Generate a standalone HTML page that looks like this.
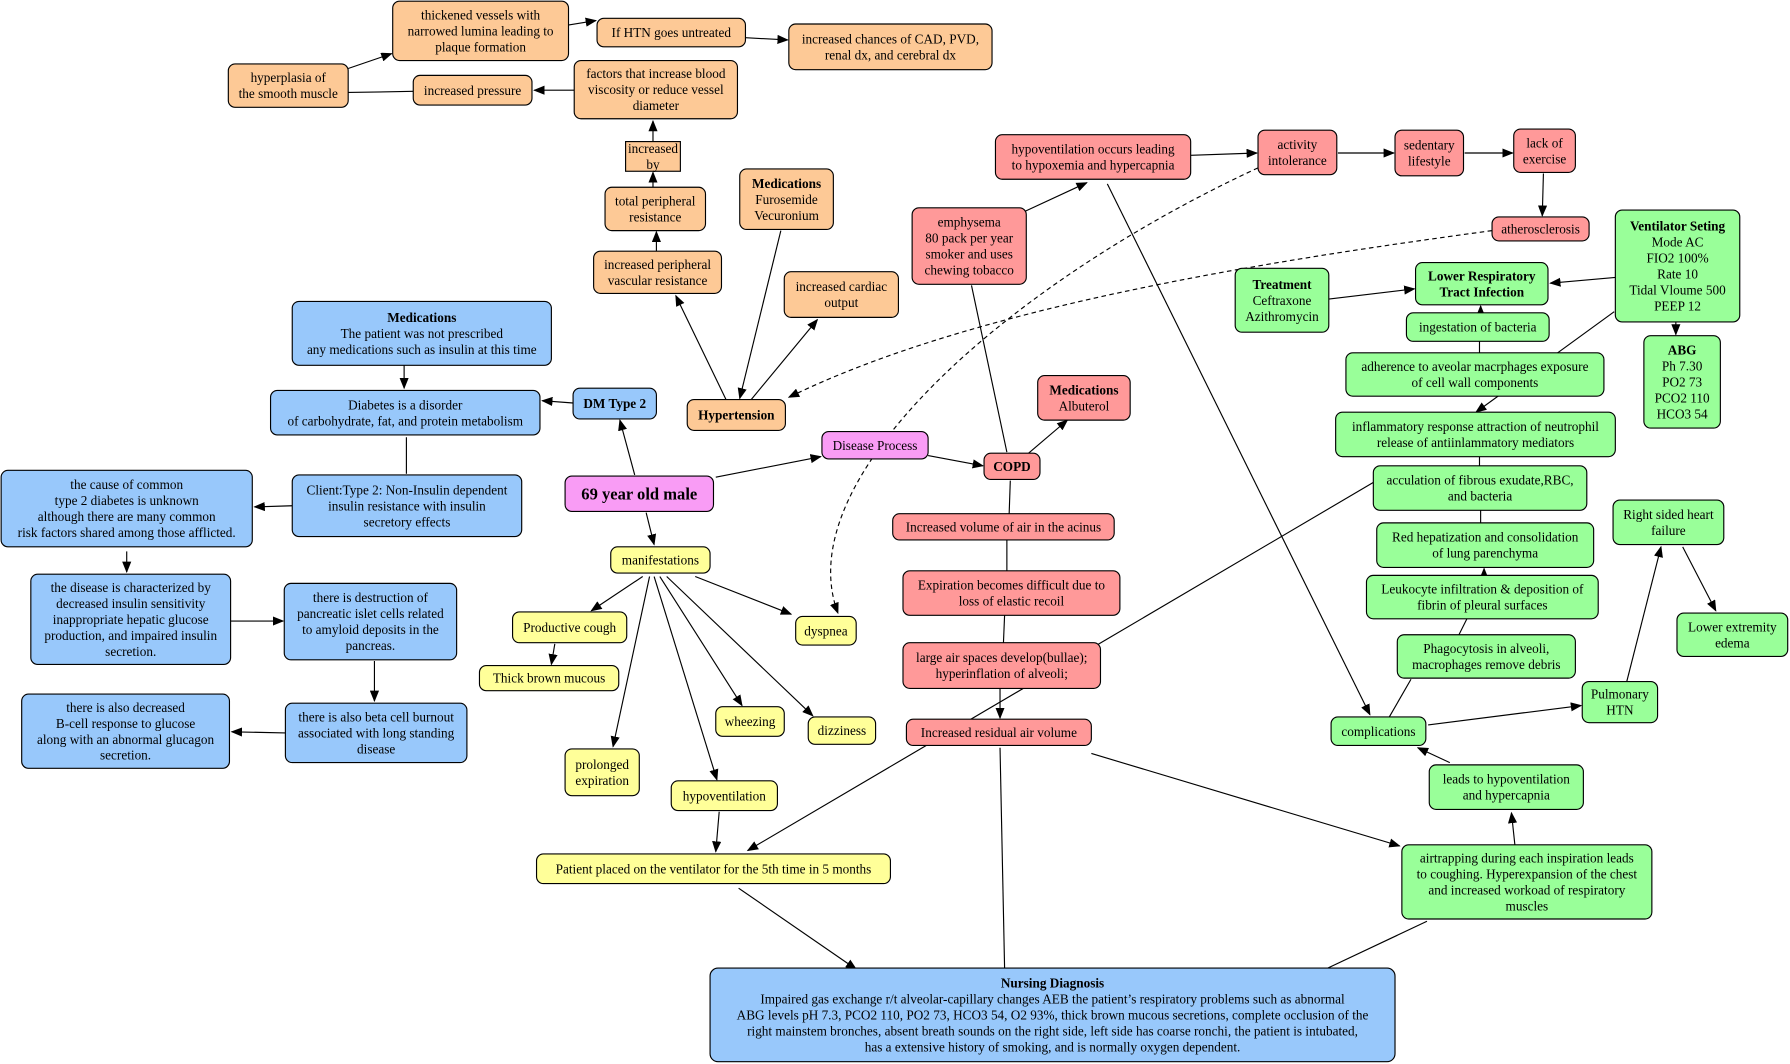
<!DOCTYPE html>
<html><head><meta charset="utf-8"><style>
html,body{margin:0;padding:0;background:#fff;}
svg{display:block;}
text{font-family:"Liberation Serif","DejaVu Serif",serif;font-size:11.6px;fill:#000;text-anchor:middle;}
.b{font-weight:bold;}
rect{stroke:#000;stroke-width:1;}
.l{stroke:#000;stroke-width:1;fill:none;}
.O{fill:#fdc996}.R{fill:#ff9999}.G{fill:#99ff99}.B{fill:#98c8fb}.Y{fill:#ffff99}.P{fill:#f99cf5}
</style></head><body>
<svg width="1790" height="1064" viewBox="0 0 1568 932" xmlns="http://www.w3.org/2000/svg">
<defs><marker id="a" markerWidth="10" markerHeight="8" refX="9" refY="4" orient="auto" markerUnits="userSpaceOnUse"><path d="M0,0 L10,4 L0,8 z" fill="#000"/></marker></defs>
<g class="l">
<line x1="305" y1="60" x2="343" y2="47" marker-end="url(#a)"/>
<line x1="497" y1="22" x2="522" y2="18" marker-end="url(#a)"/>
<line x1="653" y1="33" x2="690" y2="35" marker-end="url(#a)"/>
<line x1="503" y1="79" x2="468" y2="79" marker-end="url(#a)"/>
<line x1="362" y1="80" x2="305" y2="81"/>
<line x1="572" y1="124" x2="572" y2="106" marker-end="url(#a)"/>
<line x1="572" y1="164" x2="572" y2="151" marker-end="url(#a)"/>
<line x1="575" y1="220" x2="575" y2="203" marker-end="url(#a)"/>
<line x1="636" y1="350" x2="592" y2="259" marker-end="url(#a)"/>
<line x1="684" y1="202" x2="648" y2="349" marker-end="url(#a)"/>
<line x1="658" y1="350" x2="716" y2="280" marker-end="url(#a)"/>
<line x1="502" y1="353" x2="475" y2="351" marker-end="url(#a)"/>
<line x1="354" y1="320" x2="354" y2="340" marker-end="url(#a)"/>
<line x1="356" y1="383" x2="356" y2="415"/>
<line x1="256" y1="443" x2="223" y2="444" marker-end="url(#a)"/>
<line x1="111" y1="483" x2="111" y2="501" marker-end="url(#a)"/>
<line x1="202" y1="544" x2="248" y2="544" marker-end="url(#a)"/>
<line x1="328" y1="579" x2="328" y2="614" marker-end="url(#a)"/>
<line x1="250" y1="642" x2="203" y2="641" marker-end="url(#a)"/>
<line x1="556" y1="416" x2="543" y2="368" marker-end="url(#a)"/>
<line x1="627" y1="418" x2="719" y2="400" marker-end="url(#a)"/>
<line x1="566" y1="449" x2="573" y2="477" marker-end="url(#a)"/>
<line x1="813" y1="399" x2="861" y2="408" marker-end="url(#a)"/>
<line x1="563" y1="505" x2="518" y2="535" marker-end="url(#a)"/>
<line x1="486" y1="564" x2="483" y2="582" marker-end="url(#a)"/>
<line x1="569" y1="505" x2="537" y2="654" marker-end="url(#a)"/>
<line x1="573" y1="505" x2="628" y2="683" marker-end="url(#a)"/>
<line x1="578" y1="505" x2="650" y2="618" marker-end="url(#a)"/>
<line x1="584" y1="505" x2="712" y2="627" marker-end="url(#a)"/>
<line x1="609" y1="505" x2="693" y2="538" marker-end="url(#a)"/>
<line x1="630" y1="711" x2="627" y2="746" marker-end="url(#a)"/>
<line x1="1204" y1="422" x2="655" y2="745" marker-end="url(#a)"/>
<line x1="647" y1="778" x2="750" y2="849" marker-end="url(#a)"/>
<line x1="876" y1="655" x2="880" y2="848"/>
<line x1="956" y1="660" x2="1226" y2="741" marker-end="url(#a)"/>
<line x1="1250" y1="807" x2="1163" y2="848"/>
<line x1="1327" y1="740" x2="1324" y2="712" marker-end="url(#a)"/>
<line x1="1270" y1="668" x2="1242" y2="655" marker-end="url(#a)"/>
<line x1="1251" y1="635" x2="1385" y2="618" marker-end="url(#a)"/>
<line x1="1425" y1="597" x2="1455" y2="479" marker-end="url(#a)"/>
<line x1="1474" y1="479" x2="1503" y2="535" marker-end="url(#a)"/>
<line x1="970" y1="161" x2="1200" y2="626" marker-end="url(#a)"/>
<line x1="1236" y1="595" x2="1217" y2="628"/>
<line x1="898" y1="185" x2="952" y2="160" marker-end="url(#a)"/>
<line x1="851" y1="250" x2="882" y2="396"/>
<line x1="901" y1="397" x2="935" y2="368" marker-end="url(#a)"/>
<line x1="885" y1="421" x2="884" y2="450"/>
<line x1="882" y1="473" x2="882" y2="500"/>
<line x1="880" y1="539" x2="879" y2="563"/>
<line x1="876" y1="603" x2="876" y2="629" marker-end="url(#a)"/>
<line x1="1043" y1="136" x2="1101" y2="134" marker-end="url(#a)"/>
<line x1="1172" y1="134" x2="1221" y2="134" marker-end="url(#a)"/>
<line x1="1283" y1="134" x2="1325" y2="134" marker-end="url(#a)"/>
<line x1="1352" y1="152" x2="1351" y2="189" marker-end="url(#a)"/>
<line x1="1164" y1="262" x2="1239" y2="253" marker-end="url(#a)"/>
<line x1="1415" y1="243" x2="1358" y2="248" marker-end="url(#a)"/>
<line x1="1468" y1="282" x2="1468" y2="293" marker-end="url(#a)"/>
<line x1="1414" y1="273" x2="1293" y2="361" marker-end="url(#a)"/>
<line x1="1296" y1="309" x2="1296" y2="299"/>
<line x1="1297" y1="274" x2="1297" y2="268" marker-end="url(#a)"/>
<line x1="1296" y1="400" x2="1296" y2="408"/>
<line x1="1297" y1="447" x2="1297" y2="458"/>
<line x1="1300" y1="504" x2="1300" y2="498" marker-end="url(#a)"/>
<line x1="1285" y1="542" x2="1278" y2="556"/>
<path d="M1102,147 C880,250 690,420 734,537" stroke-dasharray="4,3" marker-end="url(#a)"/>
<path d="M1307,202 C1100,230 850,270 691,348" stroke-dasharray="4,3" marker-end="url(#a)"/>
</g>

<g>
<rect class="O" x="344" y="1" width="154" height="52" rx="6"/><text y="17"><tspan x="421">thickened vessels with</tspan><tspan x="421" dy="14">narrowed lumina leading to</tspan><tspan x="421" dy="14">plaque formation</tspan></text>
<rect class="O" x="523" y="16" width="130" height="25" rx="6"/><text x="588" y="32.5">If HTN goes untreated</text>
<rect class="O" x="691" y="21" width="178" height="40" rx="6"/><text y="38"><tspan x="780">increased chances of CAD, PVD,</tspan><tspan x="780" dy="14">renal dx, and cerebral dx</tspan></text>
<rect class="O" x="200" y="56" width="105" height="38" rx="6"/><text y="72"><tspan x="252.5">hyperplasia of</tspan><tspan x="252.5" dy="14">the smooth muscle</tspan></text>
<rect class="O" x="362" y="66" width="104" height="26" rx="6"/><text x="414" y="83">increased pressure</text>
<rect class="O" x="503" y="53" width="143" height="51" rx="6"/><text y="68.5"><tspan x="574.5">factors that increase blood</tspan><tspan x="574.5" dy="14">viscosity or reduce vessel</tspan><tspan x="574.5" dy="14">diameter</tspan></text>
<rect class="O" x="548" y="124" width="48" height="26"/><text y="134"><tspan x="572">increased</tspan><tspan x="572" dy="14">by</tspan></text>
<rect class="O" x="530" y="164" width="88" height="38" rx="6"/><text y="180"><tspan x="574">total peripheral</tspan><tspan x="574" dy="14">resistance</tspan></text>
<rect class="O" x="648" y="148" width="82" height="53" rx="6"/><text y="164.5"><tspan x="689" class="b">Medications</tspan><tspan x="689" dy="14">Furosemide</tspan><tspan x="689" dy="14">Vecuronium</tspan></text>
<rect class="O" x="520" y="220" width="112" height="37" rx="6"/><text y="235.5"><tspan x="576">increased peripheral</tspan><tspan x="576" dy="14">vascular resistance</tspan></text>
<rect class="O" x="687" y="238" width="100" height="40" rx="6"/><text y="255"><tspan x="737">increased cardiac</tspan><tspan x="737" dy="14">output</tspan></text>
<rect class="O" x="602" y="350" width="86" height="27" rx="6"/><text x="645" y="367.5" class="b">Hypertension</text>

<rect class="B" x="256" y="264" width="227" height="56" rx="6"/><text y="282"><tspan x="369.5" class="b">Medications</tspan><tspan x="369.5" dy="14">The patient was not prescribed</tspan><tspan x="369.5" dy="14">any medications such as insulin at this time</tspan></text>
<rect class="B" x="237" y="342" width="236" height="39" rx="6"/><text y="358.5"><tspan x="355">Diabetes is a disorder</tspan><tspan x="355" dy="14">of carbohydrate, fat, and protein metabolism</tspan></text>
<rect class="B" x="502" y="340" width="73" height="27" rx="6"/><text x="538.5" y="357.5" class="b">DM Type 2</text>
<rect class="B" x="256" y="416" width="201" height="54" rx="6"/><text y="433"><tspan x="356.5">Client:Type 2: Non-Insulin dependent</tspan><tspan x="356.5" dy="14">insulin resistance with insulin</tspan><tspan x="356.5" dy="14">secretory effects</tspan></text>
<rect class="B" x="1" y="412" width="220" height="67" rx="6"/><text y="428.5"><tspan x="111">the cause of common</tspan><tspan x="111" dy="14">type 2 diabetes is unknown</tspan><tspan x="111" dy="14">although there are many common</tspan><tspan x="111" dy="14">risk factors shared among those afflicted.</tspan></text>
<rect class="B" x="27" y="503" width="175" height="79" rx="6"/><text y="518.5"><tspan x="114.5">the disease is characterized by</tspan><tspan x="114.5" dy="14">decreased insulin sensitivity</tspan><tspan x="114.5" dy="14">inappropriate hepatic glucose</tspan><tspan x="114.5" dy="14">production, and impaired insulin</tspan><tspan x="114.5" dy="14">secretion.</tspan></text>
<rect class="B" x="249" y="511" width="151" height="67" rx="6"/><text y="527.5"><tspan x="324.5">there is destruction of</tspan><tspan x="324.5" dy="14">pancreatic islet cells related</tspan><tspan x="324.5" dy="14">to amyloid deposits in the</tspan><tspan x="324.5" dy="14">pancreas.</tspan></text>
<rect class="B" x="250" y="616" width="159" height="52" rx="6"/><text y="632"><tspan x="329.5">there is also beta cell burnout</tspan><tspan x="329.5" dy="14">associated with long standing</tspan><tspan x="329.5" dy="14">disease</tspan></text>
<rect class="B" x="19" y="608" width="182" height="65" rx="6"/><text y="623.5"><tspan x="110">there is also  decreased</tspan><tspan x="110" dy="14">B-cell response to glucose</tspan><tspan x="110" dy="14">along with an abnormal glucagon</tspan><tspan x="110" dy="14">secretion.</tspan></text>
<rect class="B" x="622" y="848" width="600" height="82" rx="7"/><text y="865"><tspan x="922" class="b">Nursing Diagnosis</tspan><tspan x="922" dy="14">Impaired gas exchange r/t alveolar-capillary changes AEB the patient’s respiratory problems such as abnormal</tspan><tspan x="922" dy="14">ABG levels pH 7.3, PCO2 110, PO2 73, HCO3 54, O2 93%, thick brown mucous secretions, complete occlusion of the</tspan><tspan x="922" dy="14">right mainstem bronches, absent breath sounds on the right side, left side has coarse ronchi, the patient is intubated,</tspan><tspan x="922" dy="14">has a extensive history of smoking, and is normally oxygen dependent.</tspan></text>

<rect class="P" x="495" y="417" width="130" height="31" rx="6"/><text x="560" y="437.5" class="b" style="font-size:14.5px">69 year old male</text>
<rect class="P" x="720" y="378" width="93" height="24" rx="6"/><text x="766.5" y="394">Disease Process</text>

<rect class="Y" x="535" y="479" width="87" height="23" rx="6"/><text x="578.5" y="494.5">manifestations</text>
<rect class="Y" x="449" y="536" width="100" height="27" rx="6"/><text x="499" y="553.5">Productive cough</text>
<rect class="Y" x="420" y="583" width="122" height="22" rx="6"/><text x="481" y="598">Thick brown mucous</text>
<rect class="Y" x="697" y="540" width="53" height="25" rx="6"/><text x="723.5" y="556.5">dyspnea</text>
<rect class="Y" x="627" y="619" width="60" height="26" rx="6"/><text x="657" y="636">wheezing</text>
<rect class="Y" x="708" y="628" width="59" height="24" rx="6"/><text x="737.5" y="644">dizziness</text>
<rect class="Y" x="495" y="656" width="65" height="41" rx="6"/><text y="673.5"><tspan x="527.5">prolonged</tspan><tspan x="527.5" dy="14">expiration</tspan></text>
<rect class="Y" x="588" y="684" width="93" height="26" rx="6"/><text x="634.5" y="701">hypoventilation</text>
<rect class="Y" x="470" y="748" width="310" height="26" rx="6"/><text x="625" y="765">Patient placed on the ventilator for the 5th time in 5 months</text>

<rect class="R" x="872" y="118" width="171" height="39" rx="6"/><text y="134.5"><tspan x="957.5">hypoventilation occurs leading</tspan><tspan x="957.5" dy="14">to hypoxemia and hypercapnia</tspan></text>
<rect class="R" x="1102" y="114" width="69" height="39" rx="6"/><text y="130.5"><tspan x="1136.5">activity</tspan><tspan x="1136.5" dy="14">intolerance</tspan></text>
<rect class="R" x="1222" y="114" width="60" height="40" rx="6"/><text y="131"><tspan x="1252">sedentary</tspan><tspan x="1252" dy="14">lifestyle</tspan></text>
<rect class="R" x="1326" y="113" width="54" height="38" rx="6"/><text y="129"><tspan x="1353">lack of</tspan><tspan x="1353" dy="14">exercise</tspan></text>
<rect class="R" x="1307" y="190" width="85" height="21" rx="6"/><text x="1349.5" y="204.5">atherosclerosis</text>
<rect class="R" x="799" y="182" width="100" height="67" rx="6"/><text y="198.5"><tspan x="849">emphysema</tspan><tspan x="849" dy="14">80 pack per year</tspan><tspan x="849" dy="14">smoker and uses</tspan><tspan x="849" dy="14">chewing tobacco</tspan></text>
<rect class="R" x="909" y="329" width="81" height="39" rx="6"/><text y="345.5"><tspan x="949.5" class="b">Medications</tspan><tspan x="949.5" dy="14">Albuterol</tspan></text>
<rect class="R" x="862" y="397" width="49" height="23" rx="6"/><text x="886.5" y="412.5" class="b">COPD</text>
<rect class="R" x="782" y="450" width="194" height="23" rx="6"/><text x="879" y="465.5">Increased volume of air in the acinus</text>
<rect class="R" x="791" y="500" width="190" height="39" rx="6"/><text y="516.5"><tspan x="886">Expiration becomes difficult due to</tspan><tspan x="886" dy="14">loss of elastic recoil</tspan></text>
<rect class="R" x="791" y="563" width="173" height="40" rx="6"/><text y="580"><tspan x="877.5">large air spaces develop(bullae);</tspan><tspan x="877.5" dy="14">hyperinflation of alveoli;</tspan></text>
<rect class="R" x="794" y="630" width="162" height="23" rx="6"/><text x="875" y="645.5">Increased residual air volume</text>

<rect class="G" x="1415" y="184" width="109" height="98" rx="6"/><text y="202"><tspan x="1469.5" class="b">Ventilator Seting</tspan><tspan x="1469.5" dy="14">Mode AC</tspan><tspan x="1469.5" dy="14">FIO2 100%</tspan><tspan x="1469.5" dy="14">Rate 10</tspan><tspan x="1469.5" dy="14">Tidal Vloume 500</tspan><tspan x="1469.5" dy="14">PEEP 12</tspan></text>
<rect class="G" x="1240" y="230" width="116" height="37" rx="6"/><text y="245.5" class="b"><tspan x="1298">Lower Respiratory</tspan><tspan x="1298" dy="14">Tract Infection</tspan></text>
<rect class="G" x="1082" y="235" width="82" height="56" rx="6"/><text y="253"><tspan x="1123" class="b">Treatment</tspan><tspan x="1123" dy="14">Ceftraxone</tspan><tspan x="1123" dy="14">Azithromycin</tspan></text>
<rect class="G" x="1232" y="274" width="125" height="25" rx="6"/><text x="1294.5" y="290.5">ingestation of bacteria</text>
<rect class="G" x="1440" y="294" width="67" height="81" rx="6"/><text y="310.5"><tspan x="1473.5" class="b">ABG</tspan><tspan x="1473.5" dy="14">Ph 7.30</tspan><tspan x="1473.5" dy="14">PO2 73</tspan><tspan x="1473.5" dy="14">PCO2 110</tspan><tspan x="1473.5" dy="14">HCO3 54</tspan></text>
<rect class="G" x="1179" y="309" width="226" height="38" rx="6"/><text y="325"><tspan x="1292">adherence to aveolar macrphages exposure</tspan><tspan x="1292" dy="14">of cell wall components</tspan></text>
<rect class="G" x="1170" y="361" width="245" height="39" rx="6"/><text y="377.5"><tspan x="1292.5">inflammatory response attraction of neutrophil</tspan><tspan x="1292.5" dy="14">release of antiinlammatory mediators</tspan></text>
<rect class="G" x="1203" y="408" width="187" height="39" rx="6"/><text y="424.5"><tspan x="1296.5">acculation of fibrous exudate,RBC,</tspan><tspan x="1296.5" dy="14">and bacteria</tspan></text>
<rect class="G" x="1413" y="438" width="97" height="39" rx="6"/><text y="454.5"><tspan x="1461.5">Right sided heart</tspan><tspan x="1461.5" dy="14">failure</tspan></text>
<rect class="G" x="1206" y="458" width="190" height="39" rx="6"/><text y="474.5"><tspan x="1301">Red hepatization and consolidation</tspan><tspan x="1301" dy="14">of lung parenchyma</tspan></text>
<rect class="G" x="1197" y="504" width="203" height="38" rx="6"/><text y="520"><tspan x="1298.5">Leukocyte infiltration &amp; deposition of</tspan><tspan x="1298.5" dy="14">fibrin of pleural surfaces</tspan></text>
<rect class="G" x="1469" y="537" width="97" height="38" rx="6"/><text y="553"><tspan x="1517.5">Lower extremity</tspan><tspan x="1517.5" dy="14">edema</tspan></text>
<rect class="G" x="1224" y="556" width="156" height="38" rx="6"/><text y="572"><tspan x="1302">Phagocytosis in alveoli,</tspan><tspan x="1302" dy="14">macrophages remove debris</tspan></text>
<rect class="G" x="1386" y="597" width="66" height="36" rx="6"/><text y="612"><tspan x="1419">Pulmonary</tspan><tspan x="1419" dy="14">HTN</tspan></text>
<rect class="G" x="1166" y="628" width="83" height="25" rx="6"/><text x="1207.5" y="644.5">complications</text>
<rect class="G" x="1252" y="670" width="135" height="39" rx="6"/><text y="686.5"><tspan x="1319.5">leads to hypoventilation</tspan><tspan x="1319.5" dy="14">and hypercapnia</tspan></text>
<rect class="G" x="1228" y="740" width="219" height="65" rx="6"/><text y="755.5"><tspan x="1337.5">airtrapping during each inspiration leads</tspan><tspan x="1337.5" dy="14">to coughing. Hyperexpansion of the chest</tspan><tspan x="1337.5" dy="14">and increased workoad of respiratory</tspan><tspan x="1337.5" dy="14">muscles</tspan></text>
</g>
</svg>
</body></html>
